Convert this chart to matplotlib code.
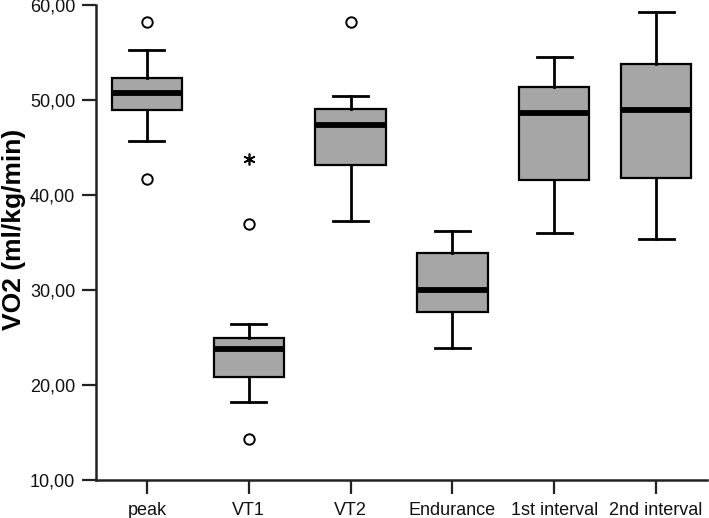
import matplotlib
matplotlib.use("Agg")
import matplotlib.pyplot as plt
from matplotlib.ticker import FuncFormatter

categories = ["peak", "VT1", "VT2", "Endurance", "1st interval", "2nd interval"]
whislo = [45.7, 18.25, 37.3, 23.9, 36.0, 35.4]
q1 = [49.0, 20.85, 43.2, 27.7, 41.6, 41.8]
med = [50.7, 23.8, 47.4, 30.05, 48.6, 48.9]
q3 = [52.3, 25.0, 49.1, 33.9, 51.4, 53.8]
whishi = [55.25, 26.45, 50.45, 36.2, 54.5, 59.3]
outliers = [[58.2, 41.65], [36.9, 14.3], [58.2], [], [], []]
extremes = [[], [43.8], [], [], [], []]
yticks = [10, 20, 30, 40, 50, 60]

plt.rcParams['font.family'] = ['Liberation Sans', 'DejaVu Sans']

fig = plt.figure(figsize=(7.09, 5.18), dpi=100)
ax = fig.add_axes([96/709, 38/518, 611/709, 475/518])

stats = []
for i in range(len(categories)):
    stats.append(dict(label=categories[i], whislo=whislo[i], q1=q1[i], med=med[i],
                      q3=q3[i], whishi=whishi[i], fliers=outliers[i]))

pos = list(range(1, len(categories) + 1))
ax.bxp(stats, positions=pos, widths=0.69, patch_artist=True, showfliers=True,
       boxprops=dict(facecolor='#a6a6a6', edgecolor='black', linewidth=1.6),
       medianprops=dict(color='black', linewidth=4.2, solid_capstyle='butt'),
       whiskerprops=dict(color='black', linewidth=2.0),
       capprops=dict(color='black', linewidth=2.0),
       capwidths=0.345,
       flierprops=dict(marker='o', markerfacecolor='white', markeredgecolor='black',
                       markersize=7.5, markeredgewidth=1.4, linestyle='none'))

for i, ex in enumerate(extremes):
    if ex:
        ax.plot([pos[i]] * len(ex), ex, linestyle='none', marker=(6, 2, 0),
                markersize=8.5, markeredgewidth=1.2, color='black')

ax.set_xlim(0.5, len(categories) + 0.5)
ax.set_ylim(10, 60)
ax.set_yticks(yticks)
ax.yaxis.set_major_formatter(FuncFormatter(lambda v, p: f"{v:.2f}".replace('.', ',')))
ax.set_xticks(pos)
ax.set_xticklabels(categories)

for s in ['top', 'right']:
    ax.spines[s].set_visible(False)
for s in ['left', 'bottom']:
    ax.spines[s].set_linewidth(1.8)
    ax.spines[s].set_color('#222222')

ax.tick_params(axis='both', direction='out', length=10, width=1.6, color='#222222',
               labelsize=13, labelcolor='#111111')
ax.tick_params(axis='y', pad=5)
ax.tick_params(axis='x', pad=6)

ax.set_ylabel("VO2 (ml/kg/min)", fontsize=19, fontweight='bold', labelpad=3)
ax.yaxis.label.set_y(0.528)

fig.savefig("out.png", dpi=100)
